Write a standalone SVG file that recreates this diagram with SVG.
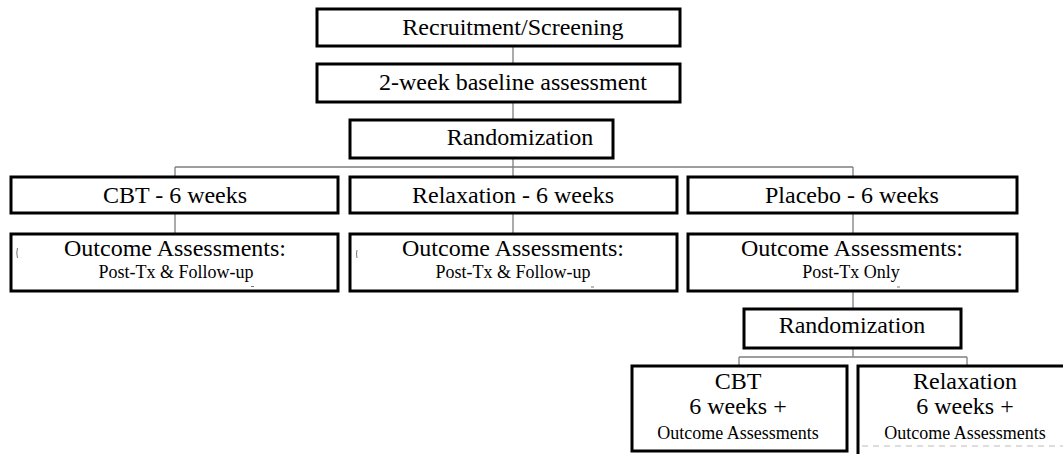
<svg xmlns="http://www.w3.org/2000/svg" width="1063" height="454" viewBox="0 0 1063 454">
<style>
.box{fill:#fff;stroke:#000;stroke-width:3}
.t{font-family:"Liberation Serif","Times New Roman",serif;font-size:24px;fill:#000;text-anchor:middle}
.s{font-family:"Liberation Serif","Times New Roman",serif;font-size:18px;fill:#000;text-anchor:middle}
.c{fill:none;stroke:#7f7f7f;stroke-width:1.3}
.a{fill:none;stroke:#777;stroke-width:1}
</style>
<rect width="1063" height="454" fill="#fff"/>
<g id="connectors">
<path class="c" d="M513 46V64M513 102V120M513 158V177M175 167H853M175 167V177M853 167V177"/>
<path class="c" d="M175 213V234M513 213V234M853 213V234M853 291V309"/>
<path class="c" d="M853 348V357M739 357H967M739 357V366M967 357V366"/>
</g>
<g id="recruitment">
<rect class="box" x="317" y="9" width="363" height="37"/>
<text class="t" x="513" y="35">Recruitment/Screening</text>
</g>
<g id="baseline">
<rect class="box" x="317" y="64" width="363" height="38"/>
<text class="t" x="513" y="90">2-week baseline assessment</text>
</g>
<g id="randomization1">
<rect class="box" x="350" y="120" width="263" height="38"/>
<text class="t" x="520" y="145">Randomization</text>
</g>
<g id="cbt">
<rect class="box" x="11" y="177" width="327" height="36"/>
<text class="t" x="175" y="203">CBT - 6 weeks</text>
</g>
<g id="relaxation">
<rect class="box" x="350" y="177" width="327" height="36"/>
<text class="t" x="513" y="203">Relaxation - 6 weeks</text>
</g>
<g id="placebo">
<rect class="box" x="688" y="177" width="329" height="36"/>
<text class="t" x="852" y="203">Placebo - 6 weeks</text>
</g>
<g id="outcome-cbt">
<rect class="box" x="11" y="234" width="327" height="57"/>
<text class="t" x="175" y="256">Outcome Assessments:</text>
<text class="s" x="176" y="278">Post-Tx &amp; Follow-up</text>
<path class="a" d="M17.5 248Q16 253 17.5 258M251 286.5H254"/>
</g>
<g id="outcome-relaxation">
<rect class="box" x="350" y="234" width="327" height="57"/>
<text class="t" x="513" y="256">Outcome Assessments:</text>
<text class="s" x="513" y="278">Post-Tx &amp; Follow-up</text>
<path class="a" d="M357 250Q356 254 357 258M591 287H594"/>
</g>
<g id="outcome-placebo">
<rect class="box" x="688" y="234" width="329" height="57"/>
<text class="t" x="852" y="256">Outcome Assessments:</text>
<text class="s" x="851" y="278">Post-Tx Only</text>
<path class="a" d="M897 287H900"/>
</g>
<g id="randomization2">
<rect class="box" x="744" y="309" width="217" height="39"/>
<text class="t" x="852" y="333">Randomization</text>
</g>
<g id="cbt2">
<rect class="box" x="632" y="366" width="215" height="85"/>
<text class="t" x="738" y="389">CBT</text>
<text class="t" x="738" y="414">6 weeks +</text>
<text class="s" x="738" y="439">Outcome Assessments</text>
</g>
<g id="relaxation2">
<rect class="box" x="858" y="366" width="220" height="95"/>
<text class="t" x="965" y="389">Relaxation</text>
<text class="t" x="965" y="414">6 weeks +</text>
<text class="s" x="965" y="439">Outcome Assessments</text>
<path d="M862 446H1063" stroke="#bbb" stroke-width="1" stroke-dasharray="6 5"/>
</g>
</svg>
